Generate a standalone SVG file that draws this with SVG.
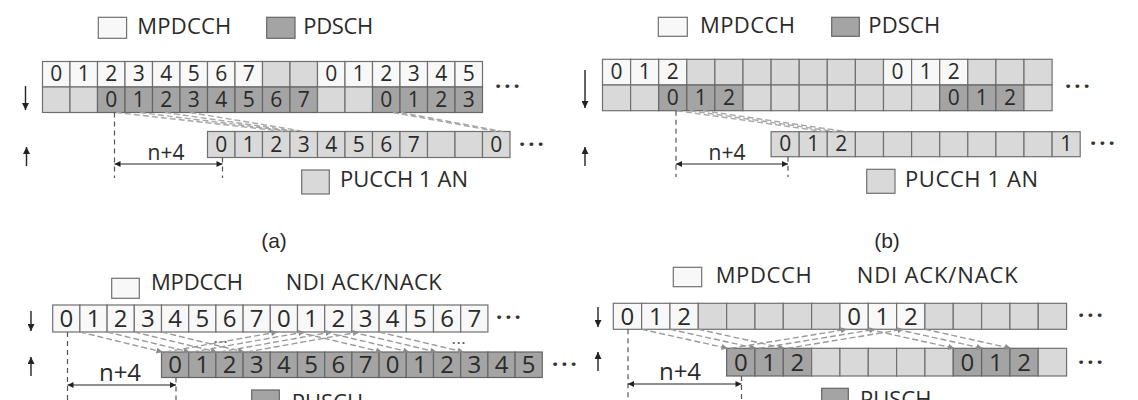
<svg xmlns="http://www.w3.org/2000/svg" width="1138" height="400" viewBox="0 0 1138 400">
<style>
.cw{fill:#f8f8f8;stroke:#707070;stroke-width:1.2}
.cg{fill:#d9d9d9;stroke:#707070;stroke-width:1.2}
.cd{fill:#a4a4a4;stroke:#656565;stroke-width:1.2}
.t{font-family:"Open Sans","Liberation Sans",sans-serif;fill:#2a2a2a;text-anchor:middle}
.s21{font-size:21px}
.s23{font-size:24px}
.lg{font-family:"Open Sans","Liberation Sans",sans-serif;font-size:22px;fill:#2a2a2a}
.cap{font-family:"Liberation Sans",Arial,sans-serif;font-size:21px;fill:#2a2a2a;text-anchor:middle}
.dots{font-family:"Open Sans","Liberation Sans",sans-serif;font-size:22px;font-weight:bold;letter-spacing:3px;fill:#333}
.sdots{font-family:"Open Sans","Liberation Sans",sans-serif;font-size:12px;font-weight:bold;letter-spacing:1.5px;fill:#555}
.diag{stroke:#a8a8a8;stroke-width:1.4;stroke-dasharray:6 3;fill:none}
.darr{stroke:#9a9a9a;stroke-width:1.4;stroke-dasharray:6 3;fill:none;marker-end:url(#ga)}
.vd{stroke:#555;stroke-width:1.2;stroke-dasharray:5 4;fill:none}
.dim{stroke:#222;stroke-width:1.2;fill:none;marker-start:url(#ah);marker-end:url(#ah)}
.ax{stroke:#222;stroke-width:1.4;fill:none;marker-end:url(#ah2)}
</style>
<defs>
<marker id="ah" viewBox="0 0 10 10" refX="10" refY="5" markerWidth="8" markerHeight="6" markerUnits="userSpaceOnUse" orient="auto-start-reverse"><path d="M0,0 L10,5 L0,10 z" fill="#222"/></marker>
<marker id="ah2" viewBox="0 0 10 10" refX="10" refY="5" markerWidth="7" markerHeight="7" markerUnits="userSpaceOnUse" orient="auto"><path d="M0,0 L10,5 L0,10 z" fill="#222"/></marker>
<marker id="ga" viewBox="0 0 10 10" refX="10" refY="5" markerWidth="7" markerHeight="6" markerUnits="userSpaceOnUse" orient="auto"><path d="M0,0 L10,5 L0,10 z" fill="#8a8a8a"/></marker>
</defs>
<rect width="1138" height="400" fill="#ffffff"/>

<!-- ===== Panel (a) ===== -->
<g id="a-legend">
<rect class="cw" x="98.3" y="17.3" width="28.3" height="21"/>
<text class="lg" x="137.3" y="34" textLength="94" >MPDCCH</text>
<rect class="cd" x="266.7" y="17.3" width="28.3" height="21"/>
<text class="lg" x="303.3" y="34" textLength="70">PDSCH</text>
<rect class="cg" x="301.7" y="170" width="27.6" height="24"/>
<text class="lg" x="340" y="186.7" textLength="128">PUCCH 1 AN</text>
</g>
<g id="a-mpdcch-row">
<rect class="cw" x="42.5" y="61.5" width="27.5" height="25.5"/>
<rect class="cw" x="70" y="61.5" width="27.5" height="25.5"/>
<rect class="cw" x="97.5" y="61.5" width="27.5" height="25.5"/>
<rect class="cw" x="125" y="61.5" width="27.5" height="25.5"/>
<rect class="cw" x="152.5" y="61.5" width="27.5" height="25.5"/>
<rect class="cw" x="180" y="61.5" width="27.5" height="25.5"/>
<rect class="cw" x="207.5" y="61.5" width="27.5" height="25.5"/>
<rect class="cw" x="235" y="61.5" width="27.5" height="25.5"/>
<rect class="cg" x="262.5" y="61.5" width="27.5" height="25.5"/>
<rect class="cg" x="290" y="61.5" width="27.5" height="25.5"/>
<rect class="cw" x="317.5" y="61.5" width="27.5" height="25.5"/>
<rect class="cw" x="345" y="61.5" width="27.5" height="25.5"/>
<rect class="cw" x="372.5" y="61.5" width="27.5" height="25.5"/>
<rect class="cw" x="400" y="61.5" width="27.5" height="25.5"/>
<rect class="cw" x="427.5" y="61.5" width="27.5" height="25.5"/>
<rect class="cw" x="455" y="61.5" width="27.5" height="25.5"/>
<g class="t s21">
<text x="56.25" y="81">0</text><text x="83.75" y="81">1</text><text x="111.25" y="81">2</text><text x="138.75" y="81">3</text><text x="166.25" y="81">4</text><text x="193.75" y="81">5</text><text x="221.25" y="81">6</text><text x="248.75" y="81">7</text>
<text x="331.25" y="81">0</text><text x="358.75" y="81">1</text><text x="386.25" y="81">2</text><text x="413.75" y="81">3</text><text x="441.25" y="81">4</text><text x="468.75" y="81">5</text>
</g>
</g>
<g id="a-pdsch-row">
<rect class="cg" x="42.5" y="87" width="27.5" height="25.5"/>
<rect class="cg" x="70" y="87" width="27.5" height="25.5"/>
<rect class="cd" x="97.5" y="87" width="27.5" height="25.5"/>
<rect class="cd" x="125" y="87" width="27.5" height="25.5"/>
<rect class="cd" x="152.5" y="87" width="27.5" height="25.5"/>
<rect class="cd" x="180" y="87" width="27.5" height="25.5"/>
<rect class="cd" x="207.5" y="87" width="27.5" height="25.5"/>
<rect class="cd" x="235" y="87" width="27.5" height="25.5"/>
<rect class="cd" x="262.5" y="87" width="27.5" height="25.5"/>
<rect class="cd" x="290" y="87" width="27.5" height="25.5"/>
<rect class="cg" x="317.5" y="87" width="27.5" height="25.5"/>
<rect class="cg" x="345" y="87" width="27.5" height="25.5"/>
<rect class="cd" x="372.5" y="87" width="27.5" height="25.5"/>
<rect class="cd" x="400" y="87" width="27.5" height="25.5"/>
<rect class="cd" x="427.5" y="87" width="27.5" height="25.5"/>
<rect class="cd" x="455" y="87" width="27.5" height="25.5"/>
<g class="t s21">
<text x="111.25" y="106.5">0</text><text x="138.75" y="106.5">1</text><text x="166.25" y="106.5">2</text><text x="193.75" y="106.5">3</text><text x="221.25" y="106.5">4</text><text x="248.75" y="106.5">5</text><text x="276.25" y="106.5">6</text><text x="303.75" y="106.5">7</text>
<text x="386.25" y="106.5">0</text><text x="413.75" y="106.5">1</text><text x="441.25" y="106.5">2</text><text x="468.75" y="106.5">3</text>
</g>
<text class="dots" x="495" y="93.5">···</text>
</g>
<g id="a-pucch-row">
<rect class="cg" x="207.5" y="131.5" width="27.5" height="26"/>
<rect class="cg" x="235" y="131.5" width="27.5" height="26"/>
<rect class="cg" x="262.5" y="131.5" width="27.5" height="26"/>
<rect class="cg" x="290" y="131.5" width="27.5" height="26"/>
<rect class="cg" x="317.5" y="131.5" width="27.5" height="26"/>
<rect class="cg" x="345" y="131.5" width="27.5" height="26"/>
<rect class="cg" x="372.5" y="131.5" width="27.5" height="26"/>
<rect class="cg" x="400" y="131.5" width="27.5" height="26"/>
<rect class="cg" x="427.5" y="131.5" width="27.5" height="26"/>
<rect class="cg" x="455" y="131.5" width="27.5" height="26"/>
<rect class="cg" x="482.5" y="131.5" width="27.5" height="26"/>
<g class="t s21">
<text x="221.25" y="151.5">0</text><text x="248.75" y="151.5">1</text><text x="276.25" y="151.5">2</text><text x="303.75" y="151.5">3</text><text x="331.25" y="151.5">4</text><text x="358.75" y="151.5">5</text><text x="386.25" y="151.5">6</text><text x="413.75" y="151.5">7</text><text x="496.25" y="151.5">0</text>
</g>
<text class="dots" x="519" y="151.5">···</text>
</g>
<g id="a-timing">
<text class="t s21" x="166" y="160">n+4</text>
<text class="cap" x="274" y="248">(a)</text>
</g>

<!-- ===== Panel (b) ===== -->
<g id="b-legend">
<rect class="cw" x="658.3" y="17.3" width="29" height="19"/>
<text class="lg" x="700" y="32.7" textLength="95">MPDCCH</text>
<rect class="cd" x="831.7" y="17.3" width="27.6" height="19"/>
<text class="lg" x="868.3" y="32.7" textLength="72">PDSCH</text>
<rect class="cg" x="866.7" y="169.3" width="28.3" height="24"/>
<text class="lg" x="905" y="186.7" textLength="133">PUCCH 1 AN</text>
</g>
<g id="b-mpdcch-row">
<rect class="cw" x="602.5" y="59.3" width="28.1" height="25.7"/>
<rect class="cw" x="630.6" y="59.3" width="28.1" height="25.7"/>
<rect class="cw" x="658.7" y="59.3" width="28.1" height="25.7"/>
<rect class="cg" x="686.8" y="59.3" width="28.1" height="25.7"/>
<rect class="cg" x="714.9" y="59.3" width="28.1" height="25.7"/>
<rect class="cg" x="743" y="59.3" width="28.1" height="25.7"/>
<rect class="cg" x="771.1" y="59.3" width="28.1" height="25.7"/>
<rect class="cg" x="799.2" y="59.3" width="28.1" height="25.7"/>
<rect class="cg" x="827.3" y="59.3" width="28.1" height="25.7"/>
<rect class="cg" x="855.4" y="59.3" width="28.1" height="25.7"/>
<rect class="cw" x="883.5" y="59.3" width="28.1" height="25.7"/>
<rect class="cw" x="911.6" y="59.3" width="28.1" height="25.7"/>
<rect class="cw" x="939.7" y="59.3" width="28.1" height="25.7"/>
<rect class="cg" x="967.8" y="59.3" width="28.1" height="25.7"/>
<rect class="cg" x="995.9" y="59.3" width="28.1" height="25.7"/>
<rect class="cg" x="1024" y="59.3" width="28.1" height="25.7"/>
<g class="t s21">
<text x="616.55" y="79">0</text><text x="644.65" y="79">1</text><text x="672.75" y="79">2</text>
<text x="897.55" y="79">0</text><text x="925.65" y="79">1</text><text x="953.75" y="79">2</text>
</g>
</g>
<g id="b-pdsch-row">
<rect class="cg" x="602.5" y="85" width="28.1" height="25.7"/>
<rect class="cg" x="630.6" y="85" width="28.1" height="25.7"/>
<rect class="cd" x="658.7" y="85" width="28.1" height="25.7"/>
<rect class="cd" x="686.8" y="85" width="28.1" height="25.7"/>
<rect class="cd" x="714.9" y="85" width="28.1" height="25.7"/>
<rect class="cg" x="743" y="85" width="28.1" height="25.7"/>
<rect class="cg" x="771.1" y="85" width="28.1" height="25.7"/>
<rect class="cg" x="799.2" y="85" width="28.1" height="25.7"/>
<rect class="cg" x="827.3" y="85" width="28.1" height="25.7"/>
<rect class="cg" x="855.4" y="85" width="28.1" height="25.7"/>
<rect class="cg" x="883.5" y="85" width="28.1" height="25.7"/>
<rect class="cg" x="911.6" y="85" width="28.1" height="25.7"/>
<rect class="cd" x="939.7" y="85" width="28.1" height="25.7"/>
<rect class="cd" x="967.8" y="85" width="28.1" height="25.7"/>
<rect class="cd" x="995.9" y="85" width="28.1" height="25.7"/>
<rect class="cg" x="1024" y="85" width="28.1" height="25.7"/>
<g class="t s21">
<text x="672.75" y="105">0</text><text x="700.85" y="105">1</text><text x="728.95" y="105">2</text>
<text x="953.75" y="105">0</text><text x="981.85" y="105">1</text><text x="1009.95" y="105">2</text>
</g>
<text class="dots" x="1065" y="93.5">···</text>
</g>
<g id="b-pucch-row">
<rect class="cg" x="771.1" y="131.7" width="28.1" height="25"/>
<rect class="cg" x="799.2" y="131.7" width="28.1" height="25"/>
<rect class="cg" x="827.3" y="131.7" width="28.1" height="25"/>
<rect class="cg" x="855.4" y="131.7" width="28.1" height="25"/>
<rect class="cg" x="883.5" y="131.7" width="28.1" height="25"/>
<rect class="cg" x="911.6" y="131.7" width="28.1" height="25"/>
<rect class="cg" x="939.7" y="131.7" width="28.1" height="25"/>
<rect class="cg" x="967.8" y="131.7" width="28.1" height="25"/>
<rect class="cg" x="995.9" y="131.7" width="28.1" height="25"/>
<rect class="cg" x="1024" y="131.7" width="28.1" height="25"/>
<rect class="cg" x="1052.1" y="131.7" width="28.1" height="25"/>
<g class="t s21">
<text x="785.15" y="151">0</text><text x="813.25" y="151">1</text><text x="841.35" y="151">2</text><text x="1066.15" y="151">1</text>
</g>
<text class="dots" x="1090" y="150.5">···</text>
</g>
<g id="b-timing">
<text class="t s21" x="727" y="160">n+4</text>
<text class="cap" x="887" y="248">(b)</text>
</g>

<!-- ===== Panel (c) ===== -->
<g id="c-legend">
<rect class="cw" x="111.7" y="278.3" width="27.6" height="20"/>
<text class="lg" x="151" y="290" textLength="92">MPDCCH</text>
<text class="lg" x="285.7" y="290" textLength="156">NDI ACK/NACK</text>
<rect class="cd" x="251.7" y="390" width="27.6" height="24"/>
<text class="lg" x="291.7" y="410">PUSCH</text>
</g>
<g id="c-mpdcch-row">
<rect class="cw" x="52.7" y="305" width="27.2" height="27"/>
<rect class="cw" x="79.9" y="305" width="27.2" height="27"/>
<rect class="cw" x="107.1" y="305" width="27.2" height="27"/>
<rect class="cw" x="134.3" y="305" width="27.2" height="27"/>
<rect class="cw" x="161.5" y="305" width="27.2" height="27"/>
<rect class="cw" x="188.7" y="305" width="27.2" height="27"/>
<rect class="cw" x="215.9" y="305" width="27.2" height="27"/>
<rect class="cw" x="243.1" y="305" width="27.2" height="27"/>
<rect class="cw" x="270.3" y="305" width="27.2" height="27"/>
<rect class="cw" x="297.5" y="305" width="27.2" height="27"/>
<rect class="cw" x="324.7" y="305" width="27.2" height="27"/>
<rect class="cw" x="351.9" y="305" width="27.2" height="27"/>
<rect class="cw" x="379.1" y="305" width="27.2" height="27"/>
<rect class="cw" x="406.3" y="305" width="27.2" height="27"/>
<rect class="cw" x="433.5" y="305" width="27.2" height="27"/>
<rect class="cw" x="460.7" y="305" width="27.2" height="27"/>
<g class="t s23">
<text x="66.3" y="326.5">0</text><text x="93.5" y="326.5">1</text><text x="120.7" y="326.5">2</text><text x="147.9" y="326.5">3</text><text x="175.1" y="326.5">4</text><text x="202.3" y="326.5">5</text><text x="229.5" y="326.5">6</text><text x="256.7" y="326.5">7</text>
<text x="283.9" y="326.5">0</text><text x="311.1" y="326.5">1</text><text x="338.3" y="326.5">2</text><text x="365.5" y="326.5">3</text><text x="392.7" y="326.5">4</text><text x="419.9" y="326.5">5</text><text x="447.1" y="326.5">6</text><text x="474.3" y="326.5">7</text>
</g>
<text class="dots" x="496" y="324.5">···</text>
</g>
<g id="c-pusch-row">
<rect class="cd" x="161.5" y="352" width="27.2" height="25.5"/>
<rect class="cd" x="188.7" y="352" width="27.2" height="25.5"/>
<rect class="cd" x="215.9" y="352" width="27.2" height="25.5"/>
<rect class="cd" x="243.1" y="352" width="27.2" height="25.5"/>
<rect class="cd" x="270.3" y="352" width="27.2" height="25.5"/>
<rect class="cd" x="297.5" y="352" width="27.2" height="25.5"/>
<rect class="cd" x="324.7" y="352" width="27.2" height="25.5"/>
<rect class="cd" x="351.9" y="352" width="27.2" height="25.5"/>
<rect class="cd" x="379.1" y="352" width="27.2" height="25.5"/>
<rect class="cd" x="406.3" y="352" width="27.2" height="25.5"/>
<rect class="cd" x="433.5" y="352" width="27.2" height="25.5"/>
<rect class="cd" x="460.7" y="352" width="27.2" height="25.5"/>
<rect class="cd" x="487.9" y="352" width="27.2" height="25.5"/>
<rect class="cd" x="515.1" y="352" width="27.2" height="25.5"/>
<g class="t s23">
<text x="175.1" y="373">0</text><text x="202.3" y="373">1</text><text x="229.5" y="373">2</text><text x="256.7" y="373">3</text><text x="283.9" y="373">4</text><text x="311.1" y="373">5</text><text x="338.3" y="373">6</text><text x="365.5" y="373">7</text>
<text x="392.7" y="373">0</text><text x="419.9" y="373">1</text><text x="447.1" y="373">2</text><text x="474.3" y="373">3</text><text x="501.5" y="373">4</text><text x="528.7" y="373">5</text>
</g>
<text class="dots" x="552" y="371.5">···</text>
</g>
<g id="c-timing">
<text class="t s23" x="120" y="381">n+4</text>
<text class="sdots" x="214" y="346">···</text>
<text class="sdots" x="452" y="347">···</text>
</g>

<!-- ===== Panel (d) ===== -->
<g id="d-legend">
<rect class="cw" x="673.3" y="267.3" width="28.4" height="19.4"/>
<text class="lg" x="715.7" y="282.7" textLength="96">MPDCCH</text>
<text class="lg" x="856.7" y="282.7" textLength="161">NDI ACK/NACK</text>
<rect class="cd" x="821.7" y="388.3" width="26.6" height="24"/>
<text class="lg" x="860" y="407">PUSCH</text>
</g>
<g id="d-mpdcch-row">
<rect class="cw" x="613.3" y="303.3" width="28.33" height="26"/>
<rect class="cw" x="641.63" y="303.3" width="28.33" height="26"/>
<rect class="cw" x="669.96" y="303.3" width="28.33" height="26"/>
<rect class="cg" x="698.29" y="303.3" width="28.33" height="26"/>
<rect class="cg" x="726.62" y="303.3" width="28.33" height="26"/>
<rect class="cg" x="754.95" y="303.3" width="28.33" height="26"/>
<rect class="cg" x="783.28" y="303.3" width="28.33" height="26"/>
<rect class="cg" x="811.61" y="303.3" width="28.33" height="26"/>
<rect class="cw" x="839.94" y="303.3" width="28.33" height="26"/>
<rect class="cw" x="868.27" y="303.3" width="28.33" height="26"/>
<rect class="cw" x="896.6" y="303.3" width="28.33" height="26"/>
<rect class="cg" x="924.93" y="303.3" width="28.33" height="26"/>
<rect class="cg" x="953.26" y="303.3" width="28.33" height="26"/>
<rect class="cg" x="981.59" y="303.3" width="28.33" height="26"/>
<rect class="cg" x="1009.92" y="303.3" width="28.33" height="26"/>
<rect class="cg" x="1038.25" y="303.3" width="28.33" height="26"/>
<g class="t s23">
<text x="627.47" y="324.5">0</text><text x="655.8" y="324.5">1</text><text x="684.13" y="324.5">2</text>
<text x="854.11" y="324.5">0</text><text x="882.44" y="324.5">1</text><text x="910.77" y="324.5">2</text>
</g>
<text class="dots" x="1078" y="322.5">···</text>
</g>
<g id="d-pusch-row">
<rect class="cd" x="726.62" y="348.3" width="28.33" height="27.7"/>
<rect class="cd" x="754.95" y="348.3" width="28.33" height="27.7"/>
<rect class="cd" x="783.28" y="348.3" width="28.33" height="27.7"/>
<rect class="cg" x="811.61" y="348.3" width="28.33" height="27.7"/>
<rect class="cg" x="839.94" y="348.3" width="28.33" height="27.7"/>
<rect class="cg" x="868.27" y="348.3" width="28.33" height="27.7"/>
<rect class="cg" x="896.6" y="348.3" width="28.33" height="27.7"/>
<rect class="cg" x="924.93" y="348.3" width="28.33" height="27.7"/>
<rect class="cd" x="953.26" y="348.3" width="28.33" height="27.7"/>
<rect class="cd" x="981.59" y="348.3" width="28.33" height="27.7"/>
<rect class="cd" x="1009.92" y="348.3" width="28.33" height="27.7"/>
<rect class="cg" x="1038.25" y="348.3" width="28.33" height="27.7"/>
<g class="t s23">
<text x="740.79" y="370.5">0</text><text x="769.12" y="370.5">1</text><text x="797.45" y="370.5">2</text>
<text x="967.43" y="370.5">0</text><text x="995.76" y="370.5">1</text><text x="1024.09" y="370.5">2</text>
</g>
<text class="dots" x="1078" y="369.5">···</text>
</g>
<g id="d-timing">
<text class="t s23" x="680" y="380">n+4</text>
</g>

<!-- ===== Connectors ===== -->
<g id="connectors">
<line class="ax" x1="25.5" y1="86" x2="25.5" y2="110"/>
<line class="ax" x1="26.5" y1="166" x2="26.5" y2="147"/>
<line class="ax" x1="585" y1="70" x2="585" y2="108"/>
<line class="ax" x1="585" y1="166" x2="585" y2="147"/>
<line class="ax" x1="31" y1="311" x2="31" y2="331"/>
<line class="ax" x1="31" y1="376" x2="31" y2="357"/>
<line class="ax" x1="598" y1="307" x2="598" y2="327"/>
<line class="ax" x1="598" y1="371" x2="598" y2="352"/>
<path class="diag" d="M116,112.5 L285,131.5 M140,112.5 L292,131.5 M165,112.5 L298,131.5 M190,112.5 L305,131.5 M393,112.5 L497,131.5 M401,112.5 L503,131.5"/>
<line class="vd" x1="114.5" y1="112.5" x2="114.5" y2="178"/>
<line class="vd" x1="222.5" y1="157.5" x2="222.5" y2="178"/>
<line class="dim" x1="114.5" y1="164" x2="222.5" y2="164"/>
<path class="diag" d="M677,110.7 L825,131.7 M690,110.7 L836,131.7 M703,110.7 L847,131.7"/>
<line class="vd" x1="676" y1="110.7" x2="676" y2="177"/>
<line class="vd" x1="788" y1="156.7" x2="788" y2="177"/>
<line class="dim" x1="676" y1="164" x2="788" y2="164"/>
<line class="darr" x1="79.9" y1="332" x2="162.5" y2="352"/>
<line class="darr" x1="107.1" y1="332" x2="189.7" y2="352"/>
<line class="darr" x1="134.3" y1="332" x2="216.9" y2="352"/>
<line class="darr" x1="161.5" y1="332" x2="244.1" y2="352"/>
<line class="darr" x1="165.5" y1="352" x2="277.3" y2="332"/>
<line class="darr" x1="192.7" y1="352" x2="304.5" y2="332"/>
<line class="darr" x1="219.9" y1="352" x2="331.7" y2="332"/>
<line class="darr" x1="247.1" y1="352" x2="358.9" y2="332"/>
<line class="darr" x1="297.5" y1="332" x2="382.1" y2="352"/>
<line class="darr" x1="324.7" y1="332" x2="409.3" y2="352"/>
<line class="darr" x1="351.9" y1="332" x2="436.5" y2="352"/>
<line class="darr" x1="379.1" y1="332" x2="463.7" y2="352"/>
<line class="vd" x1="67.5" y1="332" x2="67.5" y2="400"/>
<line class="vd" x1="176" y1="377.5" x2="176" y2="400"/>
<line class="dim" x1="67.5" y1="385" x2="176" y2="385"/>
<line class="darr" x1="641.6" y1="329.3" x2="727.6" y2="348.3"/>
<line class="darr" x1="670" y1="329.3" x2="756" y2="348.3"/>
<line class="darr" x1="698.3" y1="329.3" x2="784.3" y2="348.3"/>
<line class="darr" x1="730.6" y1="348.3" x2="846.9" y2="329.3"/>
<line class="darr" x1="758.9" y1="348.3" x2="875.3" y2="329.3"/>
<line class="darr" x1="787.3" y1="348.3" x2="903.6" y2="329.3"/>
<line class="darr" x1="868.3" y1="329.3" x2="954.3" y2="348.3"/>
<line class="darr" x1="896.6" y1="329.3" x2="982.6" y2="348.3"/>
<line class="darr" x1="924.9" y1="329.3" x2="1010.9" y2="348.3"/>
<line class="vd" x1="628" y1="329.3" x2="628" y2="400"/>
<line class="vd" x1="741.5" y1="376" x2="741.5" y2="400"/>
<line class="dim" x1="628" y1="384" x2="741.5" y2="384"/>
</g>
</svg>
